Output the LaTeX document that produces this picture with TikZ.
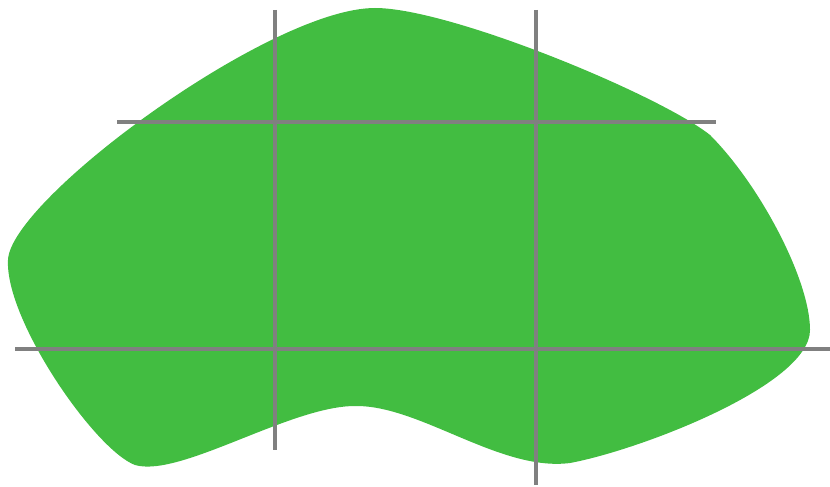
\documentclass[tikz,border=0pt]{standalone}
\usetikzlibrary{positioning}
\definecolor{blobgreen}{RGB}{66,189,65}
\definecolor{gridgrey}{RGB}{128,128,128}

\begin{document}
\begin{tikzpicture}[
  x=0.02cm, y=-0.02cm,
  blob/.style={fill=blobgreen, draw=none},
  cut/.style={draw=gridgrey, line width=2.3pt}
]
  \useasboundingbox (0,0) rectangle (830,486);
  % the green region
  \path[blob] (375,8)
    .. controls (450,8) and (660,95) .. (710,135)
    .. controls (760,185) and (810,280) .. (810,330)
    .. controls (810,385) and (640,450) .. (570,463)
    .. controls (500,472) and (420,405) .. (355,406)
    .. controls (290,406) and (180,478) .. (135,465)
    .. controls (95,450) and (5,320) .. (8,260)
    .. controls (10,200) and (270,8) .. (375,8) -- cycle;
  % cutting lines
  \coordinate (v1top) at (275,10);
  \coordinate (v1bot) at (275,450);
  \coordinate (v2top) at (536,10);
  \coordinate (v2bot) at (536,485);
  \coordinate (h1left) at (117,122);
  \coordinate (h1right) at (716,122);
  \coordinate (h2left) at (15,349);
  \coordinate (h2right) at (830,349);
  \draw[cut] (v1top) -- (v1bot);
  \draw[cut] (v2top) -- (v2bot);
  \draw[cut] (h1left) -- (h1right);
  \draw[cut] (h2left) -- (h2right);
\end{tikzpicture}
\end{document}
